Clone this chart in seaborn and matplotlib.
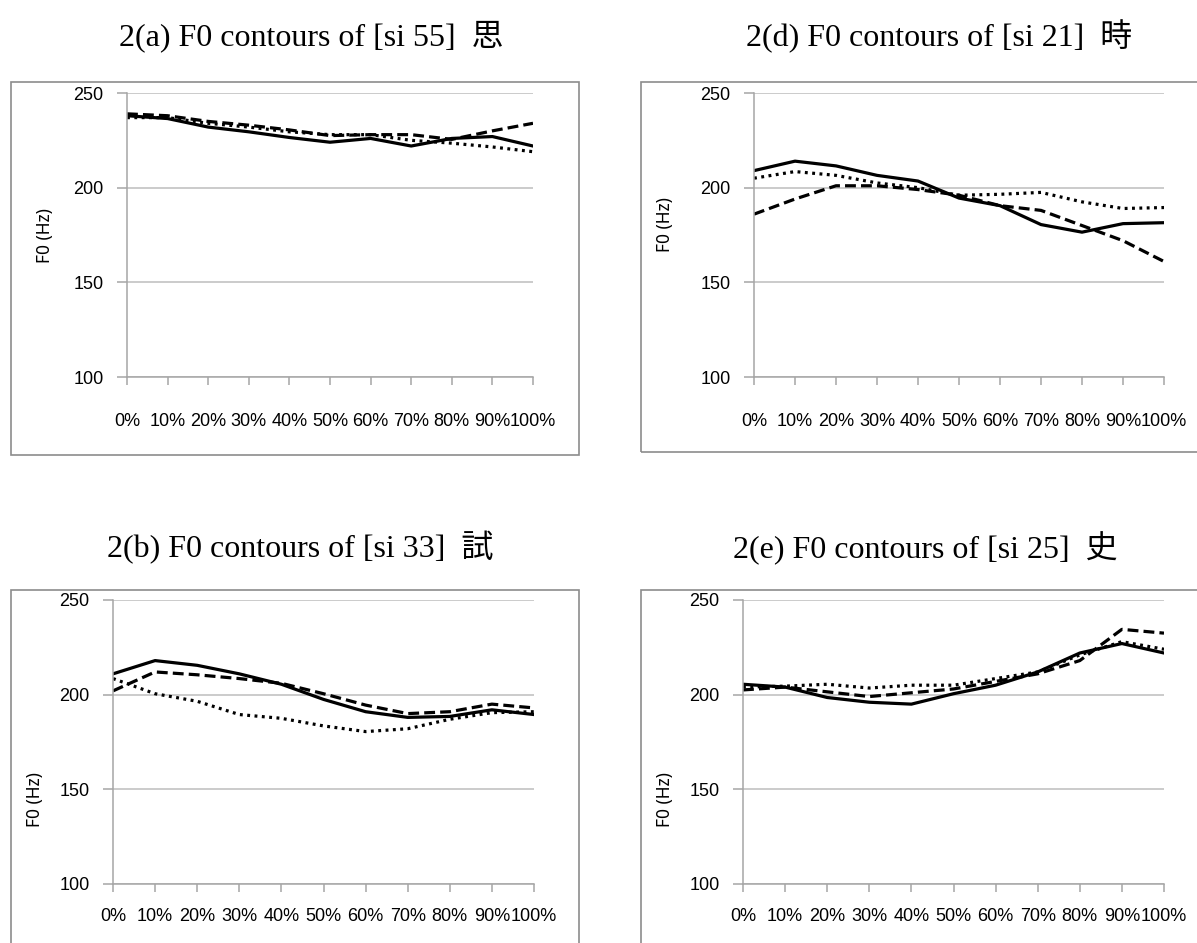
import matplotlib
matplotlib.use("Agg")
import matplotlib.pyplot as plt
from matplotlib import font_manager
from matplotlib.patches import Rectangle
import seaborn as sns
import pandas as pd

# ---------------- data ----------------
pct = [0, 10, 20, 30, 40, 50, 60, 70, 80, 90, 100]
x_labels = ["0%", "10%", "20%", "30%", "40%", "50%", "60%", "70%", "80%", "90%", "100%"]

a_solid = [238, 236.5, 232, 229.5, 226.5, 224, 226, 222, 226, 227, 222]
a_dashed = [239, 238, 235, 233, 230.5, 227.5, 228, 228, 225.5, 230, 234]
a_dotted = [237, 237, 234, 232, 229.5, 228, 228, 225, 223.5, 221.5, 219]

d_solid = [209, 214, 211.5, 206.5, 203.5, 194.5, 190.5, 180.5, 176.5, 181, 181.5]
d_dashed = [186, 194, 201, 201, 199, 196, 190.5, 188, 180, 172, 161]
d_dotted = [205, 208.5, 206.5, 202.5, 200, 196, 196.5, 197.5, 192.5, 189, 189.5]

b_solid = [211, 218, 215.5, 211, 205.5, 197.5, 191, 188, 188.5, 192, 189.5]
b_dashed = [202, 212, 210.5, 208.5, 206, 200.5, 194.5, 190, 191, 195, 193]
b_dotted = [208.5, 200.5, 196.5, 189.5, 187.5, 183.5, 180.5, 182, 187, 190.5, 191]

e_solid = [205.5, 204, 198.5, 196, 195, 200.5, 205, 212, 222, 227, 222]
e_dashed = [202.5, 204, 201.5, 199, 201, 203, 207, 211, 218, 234.5, 232.5]
e_dotted = [204, 204.5, 205.5, 203.5, 205, 205, 208.5, 212, 221, 228, 224]

titles = ["2(a) F0 contours of [si 55]  思", "2(d) F0 contours of [si 21]  時",
          "2(b) F0 contours of [si 33]  試", "2(e) F0 contours of [si 25]  史"]
y_ticks = [100, 150, 200, 250]
y_label = "F0 (Hz)"

# ---------------- fonts ----------------
avail = {f.name for f in font_manager.fontManager.ttflist}
def pick(*names):
    for n in names:
        if n in avail:
            return n
    return names[-1]
serif = pick("Liberation Serif", "DejaVu Serif")
tick_font = pick("Liberation Sans Narrow", "Liberation Sans")
cjk = pick("Noto Sans CJK TC", "Noto Sans CJK SC", "Noto Sans CJK JP", "Noto Sans CJK KR")

sns.set_style("white")
plt.rcParams["font.family"] = [tick_font, cjk]

W, H = 1197, 943
fig = plt.figure(figsize=(W / 100, H / 100), dpi=100)

def fx(px):
    return px / W

def fy(px):
    return 1 - px / H

panels = [
    # (title, data, axes box [l, r, t, b], frame [l, t, r, b], title pos, ylabel pos, xpad)
    (titles[0], (a_solid, a_dashed, a_dotted), (127, 533, 93, 377), (11, 82, 579, 455), (311, 36), (45, 236), 20),
    (titles[1], (d_solid, d_dashed, d_dotted), (754, 1164, 93, 377), (641, 82, 1210, 452), (939, 36), (665, 225), 20),
    (titles[2], (b_solid, b_dashed, b_dotted), (113, 534, 600, 884), (11, 590, 579, 960), (300, 548), (35, 800), 11),
    (titles[3], (e_solid, e_dashed, e_dotted), (743, 1164, 600, 884), (641, 590, 1210, 960), (925, 548), (665, 800), 11),
]

style_names = ["solid", "dashed", "dotted"]
dash_map = {"solid": "", "dashed": (3.4, 1.6), "dotted": (0.9, 1.4)}

for title, series, box, frame, tpos, ypos, xpad in panels:
    l, r, t, b = box
    fl, ft, fr, fb = frame
    fig.patches.append(Rectangle((fx(fl), fy(fb)), fx(fr) - fx(fl), fy(ft) - fy(fb),
                                 transform=fig.transFigure, fill=False,
                                 edgecolor="#8c8c8c", linewidth=1.2, zorder=0))
    ax = fig.add_axes([fx(l), fy(b), fx(r) - fx(l), fy(t) - fy(b)])
    rows = []
    for name, vals in zip(style_names, series):
        for p, v in zip(pct, vals):
            rows.append({"pct": p, "f0": v, "series": name})
    df = pd.DataFrame(rows)
    sns.lineplot(data=df, x="pct", y="f0", style="series", dashes=dash_map,
                 color="black", linewidth=2.3, legend=False, ax=ax)
    for ln in ax.get_lines():
        ln.set_dash_capstyle("butt")
        ln.set_solid_joinstyle("round")
    ax.set_xlim(0, 100)
    ax.set_ylim(100, 250)
    ax.set_xticks(pct)
    ax.set_xticklabels(x_labels)
    ax.set_yticks(y_ticks)
    ax.set_yticklabels([str(v) for v in y_ticks])
    ax.set_xlabel("")
    ax.set_ylabel("")
    ax.grid(axis="y", color="#bdbdbd", linewidth=1.1)
    ax.grid(axis="x", visible=False)
    ax.set_axisbelow(True)
    for s in ["top", "right"]:
        ax.spines[s].set_visible(False)
    for s in ["left", "bottom"]:
        ax.spines[s].set_visible(True)
        ax.spines[s].set_color("#a6a6a6")
        ax.spines[s].set_linewidth(1.1)
    ax.tick_params(axis="y", direction="out", length=7, width=1.1, color="#a6a6a6",
                   labelsize=13, pad=10, left=True, labelcolor="black")
    ax.tick_params(axis="x", direction="out", length=6, width=1.1, color="#a6a6a6",
                   labelsize=13, pad=xpad, bottom=True, labelcolor="black")
    ax.patch.set_alpha(0)
    fig.text(fx(tpos[0]), fy(tpos[1]), title, ha="center", va="center",
             fontsize=23, family=[serif, cjk], color="black")
    fig.text(fx(ypos[0]), fy(ypos[1]), y_label, ha="center", va="center",
             rotation=90, fontsize=12.5, family=["Noto Sans", "DejaVu Sans"], color="black")

fig.savefig("out.png", dpi=100)
